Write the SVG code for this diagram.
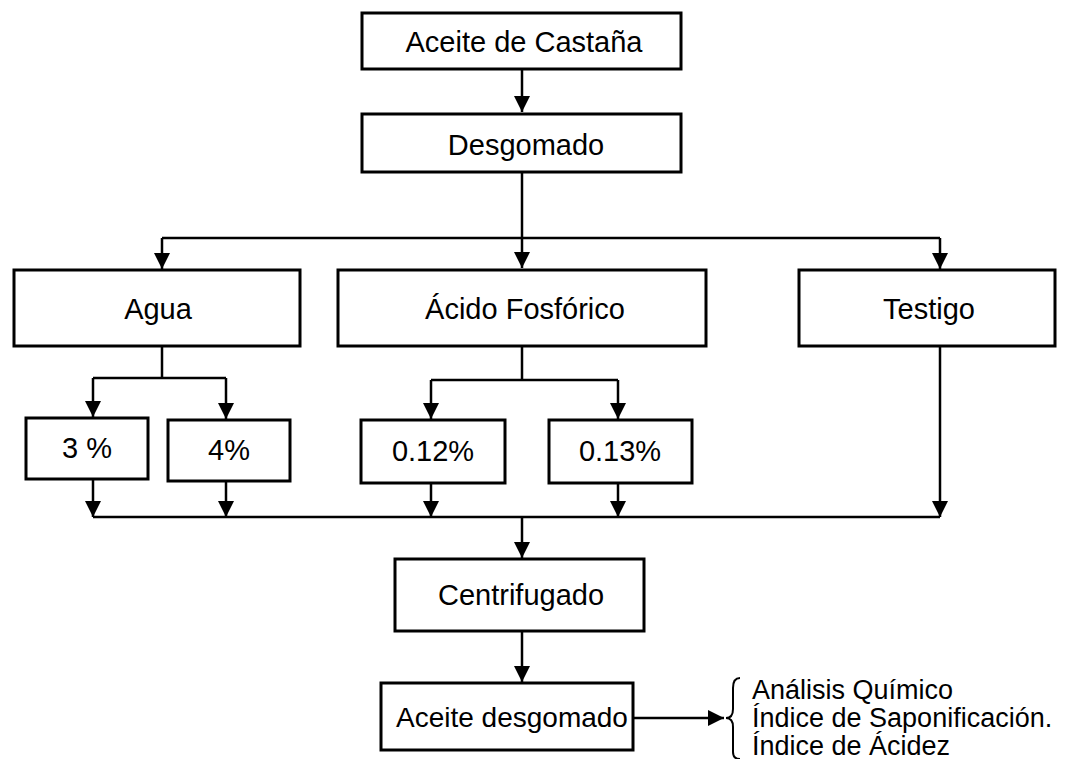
<svg xmlns="http://www.w3.org/2000/svg" width="1083" height="759" viewBox="0 0 1083 759">
<style>
.box{fill:#fff;stroke:#000;stroke-width:3}
.t{font-family:"Liberation Sans",Arial,sans-serif;font-size:29px;fill:#000;text-anchor:middle}
.tl{font-family:"Liberation Sans",Arial,sans-serif;font-size:27px;fill:#000}
.ln{fill:none;stroke:#000;stroke-width:2.5}
</style>
<defs>
<marker id="ah" markerWidth="16" markerHeight="18" refX="16" refY="8" orient="auto" markerUnits="userSpaceOnUse">
<path d="M0,0 L16,8 L0,16 Z" fill="#000"/>
</marker>
</defs>
<rect width="1083" height="759" fill="#fff"/>
<g id="connectors">
<path class="ln" d="M522,69 V112" marker-end="url(#ah)"/>
<path class="ln" d="M522,172 V268" marker-end="url(#ah)"/>
<path class="ln" d="M162,238 H940"/>
<path class="ln" d="M162,238 V269" marker-end="url(#ah)"/>
<path class="ln" d="M940,238 V269" marker-end="url(#ah)"/>
<path class="ln" d="M162,346 V378 M93,378 H226"/>
<path class="ln" d="M93,378 V417" marker-end="url(#ah)"/>
<path class="ln" d="M226,378 V419" marker-end="url(#ah)"/>
<path class="ln" d="M522,346 V380 M431,380 H618"/>
<path class="ln" d="M431,380 V419" marker-end="url(#ah)"/>
<path class="ln" d="M618,380 V419" marker-end="url(#ah)"/>
<path class="ln" d="M93,479 V517" marker-end="url(#ah)"/>
<path class="ln" d="M226,481 V517" marker-end="url(#ah)"/>
<path class="ln" d="M431,483 V517" marker-end="url(#ah)"/>
<path class="ln" d="M618,483 V517" marker-end="url(#ah)"/>
<path class="ln" d="M940,346 V517" marker-end="url(#ah)"/>
<path class="ln" d="M93,517 H940"/>
<path class="ln" d="M522,517 V558" marker-end="url(#ah)"/>
<path class="ln" d="M522,631 V682" marker-end="url(#ah)"/>
<path class="ln" d="M633,718 H724" marker-end="url(#ah)"/>
<path fill="none" stroke="#000" stroke-width="2" d="M740,678 Q733,678 733,688 V709 Q733,718 726,718 Q733,718 733,727 V752 Q733,759 740,759"/>
</g>
<g id="n1"><rect class="box" x="362" y="13" width="319" height="56"/><text class="t" x="524" y="52">Aceite de Castaña</text></g>
<g id="n2"><rect class="box" x="362" y="114" width="319" height="58"/><text class="t" x="526" y="155">Desgomado</text></g>
<g id="n3"><rect class="box" x="14" y="270" width="286" height="76"/><text class="t" x="158" y="319">Agua</text></g>
<g id="n4"><rect class="box" x="338" y="270" width="368" height="76"/><text class="t" x="525" y="319">Ácido Fosfórico</text></g>
<g id="n5"><rect class="box" x="799" y="270" width="256" height="76"/><text class="t" x="929" y="319">Testigo</text></g>
<g id="n6"><rect class="box" x="26" y="418" width="122" height="61"/><text class="t" x="87" y="458">3 %</text></g>
<g id="n7"><rect class="box" x="168" y="420" width="122" height="61"/><text class="t" x="229" y="460">4%</text></g>
<g id="n8"><rect class="box" x="361" y="420" width="144" height="63"/><text class="t" x="433" y="461">0.12%</text></g>
<g id="n9"><rect class="box" x="549" y="420" width="143" height="63"/><text class="t" x="620" y="461">0.13%</text></g>
<g id="n10"><rect class="box" x="395" y="559" width="249" height="72"/><text class="t" x="521" y="605">Centrifugado</text></g>
<g id="n11"><rect class="box" x="381" y="683" width="252" height="67"/><text class="t" x="396" y="727" style="text-anchor:start;font-size:28px">Aceite desgomado</text></g>
<g id="n12">
<text class="tl" x="752" y="699">Análisis Químico</text>
<text class="tl" x="752" y="727">Índice de Saponificación.</text>
<text class="tl" x="752" y="755">Índice de Ácidez</text>
</g>
</svg>
